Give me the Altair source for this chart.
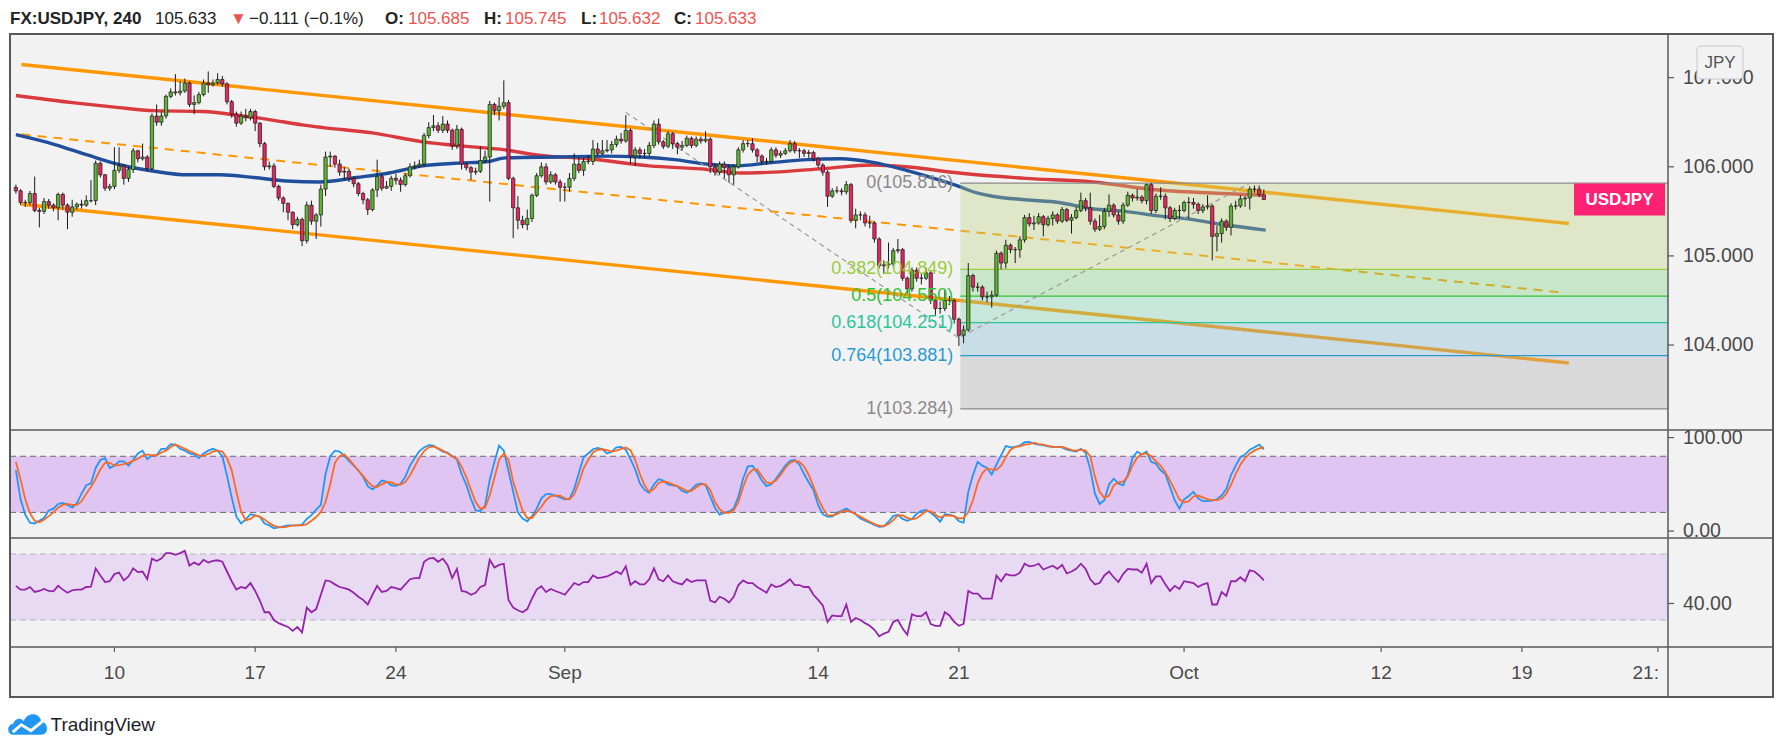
import altair as alt
import pandas as pd

# ------------------------------------------------------------------ data
first_open = 105.77
closes = [
    105.73, 105.60, 105.60, 105.70, 105.51, 105.50, 105.61, 105.57, 105.54, 105.69,
    105.57, 105.49, 105.55, 105.58, 105.57, 105.62, 105.62, 106.04, 105.91, 105.76,
    105.78, 105.96, 106.01, 105.87, 105.97, 106.18, 106.09, 106.11, 105.98, 106.57,
    106.50, 106.57, 106.79, 106.84, 106.83, 106.85, 106.94, 106.70, 106.72, 106.81,
    106.94, 106.92, 106.94, 106.98, 106.93, 106.73, 106.59, 106.49, 106.57, 106.55,
    106.62, 106.49, 106.26, 106.00, 106.01, 105.78, 105.65, 105.59, 105.49, 105.35,
    105.41, 105.17, 105.57, 105.39, 105.46, 105.75, 106.11, 106.12, 106.03, 105.94,
    105.95, 105.87, 105.81, 105.70, 105.63, 105.52, 105.74, 105.89, 105.76, 105.78,
    105.87, 105.85, 105.80, 105.90, 106.00, 106.01, 106.03, 106.35, 106.44, 106.46,
    106.41, 106.48, 106.41, 106.24, 106.42, 106.03, 105.99, 105.94, 105.95, 106.07,
    106.11, 106.70, 106.63, 106.68, 106.72, 105.87, 105.54, 105.40, 105.35, 105.42,
    105.68, 105.90, 106.00, 105.83, 105.91, 105.83, 105.77, 105.77, 105.87, 106.03,
    105.96, 106.06, 106.06, 106.20, 106.15, 106.18, 106.19, 106.25, 106.31, 106.29,
    106.41, 106.12, 106.19, 106.15, 106.15, 106.24, 106.48, 106.28, 106.23, 106.37,
    106.26, 106.22, 106.24, 106.32, 106.24, 106.31, 106.29, 106.31, 106.00, 105.94,
    106.03, 105.99, 105.91, 106.00, 106.19, 106.26, 106.26, 106.19, 106.12, 106.06,
    106.06, 106.19, 106.13, 106.15, 106.18, 106.26, 106.18, 106.18, 106.15, 106.16,
    106.09, 106.02, 105.94, 105.67, 105.73, 105.73, 105.72, 105.80, 105.40, 105.46,
    105.46, 105.37, 105.37, 105.19, 104.89, 104.90, 104.91, 105.06, 105.07, 104.75,
    104.63, 104.84, 104.75, 104.75, 104.81, 104.50, 104.41, 104.41, 104.50, 104.50,
    104.29, 104.11, 104.17, 104.78, 104.65, 104.65, 104.54, 104.54, 104.56, 105.03,
    104.92, 105.12, 105.07, 105.07, 105.18, 105.43, 105.36, 105.37, 105.44, 105.35,
    105.42, 105.46, 105.39, 105.52, 105.40, 105.43, 105.51, 105.62, 105.54, 105.39,
    105.30, 105.33, 105.50, 105.57, 105.46, 105.39, 105.57, 105.68, 105.65, 105.66,
    105.62, 105.80, 105.51, 105.67, 105.67, 105.54, 105.42, 105.51, 105.51, 105.60,
    105.60, 105.58, 105.51, 105.55, 105.56, 105.22, 105.25, 105.39, 105.32, 105.56,
    105.56, 105.64, 105.65, 105.75, 105.75, 105.685, 105.633,
]
highs = [
    105.80, 105.75, 105.63, 105.73, 105.89, 105.54, 105.65, 105.64, 105.59, 105.71,
    105.71, 105.59, 105.63, 105.60, 105.63, 105.68, 105.85, 106.07, 106.06, 105.92,
    105.81, 106.22, 106.22, 106.03, 106.00, 106.21, 106.19, 106.26, 106.13, 106.60,
    106.70, 106.62, 106.81, 106.88, 107.04, 106.96, 106.99, 106.96, 106.80, 106.84,
    106.98, 107.07, 106.98, 107.05, 107.02, 106.95, 106.75, 106.62, 106.62, 106.65,
    106.65, 106.64, 106.50, 106.28, 106.06, 106.04, 105.80, 105.67, 105.60, 105.50,
    105.44, 105.43, 105.61, 105.62, 105.48, 105.80, 106.17, 106.17, 106.13, 106.08,
    106.00, 105.98, 105.89, 105.83, 105.72, 105.65, 105.76, 106.08, 105.92, 105.84,
    105.90, 105.92, 105.88, 105.93, 106.04, 106.06, 106.08, 106.38, 106.50, 106.58,
    106.50, 106.57, 106.52, 106.43, 106.47, 106.44, 106.05, 106.01, 105.99, 106.23,
    106.18, 106.74, 106.72, 106.78, 106.97, 106.75, 105.89, 105.67, 105.45, 105.52,
    105.70, 105.93, 106.05, 106.04, 105.95, 105.93, 105.86, 105.82, 105.93, 106.15,
    106.11, 106.10, 106.13, 106.30, 106.27, 106.30, 106.30, 106.29, 106.35, 106.38,
    106.58, 106.43, 106.22, 106.22, 106.20, 106.28, 106.52, 106.54, 106.30, 106.40,
    106.39, 106.28, 106.29, 106.35, 106.34, 106.34, 106.34, 106.40, 106.33, 106.04,
    106.06, 106.06, 106.02, 106.03, 106.22, 106.30, 106.30, 106.32, 106.21, 106.14,
    106.10, 106.22, 106.22, 106.18, 106.21, 106.30, 106.29, 106.21, 106.20, 106.19,
    106.18, 106.11, 106.04, 105.96, 105.76, 105.78, 105.76, 105.84, 105.82, 105.53,
    105.50, 105.49, 105.45, 105.39, 105.21, 104.95, 105.15, 105.09, 105.19, 105.09,
    104.77, 104.87, 104.87, 104.80, 104.87, 104.83, 104.52, 104.49, 104.63, 104.55,
    104.52, 104.31, 104.22, 104.92, 104.80, 104.70, 104.67, 104.60, 104.61, 105.06,
    105.05, 105.18, 105.14, 105.10, 105.22, 105.46, 105.48, 105.45, 105.48, 105.46,
    105.45, 105.50, 105.48, 105.55, 105.54, 105.47, 105.55, 105.71, 105.65, 105.71,
    105.42, 105.46, 105.54, 105.69, 105.59, 105.50, 105.60, 105.72, 105.70, 105.75,
    105.68, 105.81, 105.82, 105.70, 105.77, 105.70, 105.56, 105.54, 105.57, 105.62,
    105.66, 105.65, 105.60, 105.58, 105.68, 105.58, 105.34, 105.42, 105.41, 105.59,
    105.62, 105.68, 105.67, 105.78, 105.79, 105.79, 105.745,
]
lows = [
    105.70, 105.57, 105.55, 105.57, 105.49, 105.32, 105.47, 105.53, 105.50, 105.40,
    105.52, 105.30, 105.44, 105.52, 105.53, 105.55, 105.60, 105.57, 105.88, 105.73,
    105.73, 105.75, 105.93, 105.80, 105.83, 105.93, 106.05, 106.07, 105.95, 105.96,
    106.46, 106.46, 106.54, 106.77, 106.80, 106.80, 106.83, 106.67, 106.59, 106.70,
    106.79, 106.83, 106.90, 106.92, 106.90, 106.70, 106.55, 106.45, 106.47, 106.51,
    106.52, 106.40, 106.22, 105.96, 105.97, 105.76, 105.62, 105.49, 105.40, 105.30,
    105.33, 105.11, 105.14, 105.35, 105.19, 105.33, 105.67, 106.00, 105.99, 105.90,
    105.85, 105.83, 105.77, 105.67, 105.58, 105.46, 105.50, 105.66, 105.73, 105.75,
    105.73, 105.80, 105.72, 105.78, 105.88, 105.97, 105.99, 106.00, 106.32, 106.40,
    106.38, 106.38, 106.38, 106.19, 106.20, 105.97, 105.96, 105.85, 105.91, 105.93,
    106.04, 105.61, 106.58, 106.52, 106.65, 105.85, 105.20, 105.30, 105.31, 105.29,
    105.38, 105.66, 105.88, 105.80, 105.81, 105.80, 105.61, 105.61, 105.72, 105.84,
    105.93, 105.90, 106.03, 106.02, 106.12, 106.13, 106.16, 106.15, 106.22, 106.26,
    106.27, 106.03, 106.01, 106.09, 106.10, 106.12, 106.21, 106.25, 106.20, 106.21,
    106.20, 106.14, 106.18, 106.22, 106.21, 106.22, 106.26, 106.27, 105.93, 105.90,
    105.91, 105.87, 105.82, 105.80, 105.98, 106.16, 106.22, 106.16, 106.05, 106.02,
    106.02, 106.04, 106.10, 106.10, 106.13, 106.16, 106.15, 106.10, 106.11, 106.10,
    106.06, 105.99, 105.90, 105.55, 105.65, 105.70, 105.68, 105.69, 105.37, 105.31,
    105.40, 105.33, 105.31, 105.15, 104.86, 104.80, 104.86, 104.88, 105.03, 104.72,
    104.58, 104.60, 104.71, 104.68, 104.73, 104.46, 104.33, 104.35, 104.38, 104.45,
    104.24, 103.99, 104.02, 104.15, 104.60, 104.60, 104.50, 104.48, 104.42, 104.54,
    104.85, 104.86, 105.03, 104.92, 104.98, 105.15, 105.33, 105.29, 105.35, 105.22,
    105.33, 105.34, 105.36, 105.37, 105.38, 105.25, 105.41, 105.49, 105.50, 105.35,
    105.27, 105.28, 105.30, 105.44, 105.43, 105.35, 105.36, 105.55, 105.61, 105.62,
    105.59, 105.58, 105.47, 105.48, 105.63, 105.41, 105.38, 105.40, 105.42, 105.49,
    105.42, 105.53, 105.47, 105.48, 105.52, 104.95, 105.05, 105.15, 105.28, 105.23,
    105.52, 105.54, 105.55, 105.52, 105.71, 105.66, 105.632,
]
stoch_k = [
    65, 34, 17.5, 9, 8, 11, 14, 22, 24, 29, 30, 28, 25, 30, 40, 49, 51, 67.5, 76, 78, 67.5,
    70, 74.6, 74.6, 70, 76, 83, 86, 77, 81, 81, 88, 88, 93, 92.5, 88, 86, 83, 82, 78, 83,
    86, 88, 86, 80, 59, 36, 15.4, 8.3, 12.5, 18, 16.7, 15.4, 8, 6, 3, 4, 5, 6, 6, 6, 7,
    13, 17, 23, 28, 61, 80,
    86, 85, 80.5, 75, 70, 65, 58, 48, 44.6, 48.5, 54, 53, 49, 48.5, 50.5, 58, 70, 78, 85.5,
    89.5, 92, 91.5, 88, 85, 84, 80, 76.5, 61, 49.5, 34.5, 22, 21.5, 27, 55, 74, 91.5, 86,
    64, 42, 20, 13.5, 10.5, 16, 24, 35, 39.5, 39.5, 38, 36, 34, 34.5, 45, 62, 79, 83, 87.5,
    89, 87.8, 83, 85, 89.5, 90, 87, 77, 66, 51, 44, 41,
    50, 55.5, 54, 50, 49, 48, 43, 41, 44.5, 49.5, 51, 49.5, 37, 25, 17.5, 19.5, 21, 24, 37,
    56, 69, 70, 63, 54, 48, 50, 56, 63, 70, 75, 76, 71, 61, 52, 44, 28, 18, 15.4, 15.4,
    19.6, 21.7, 24, 21, 18, 13.5, 11, 9, 6.5, 4.5, 5, 10, 16, 17.5, 13, 11, 13, 18.5, 21.5,
    22.5, 19.6, 15.4, 10, 18, 17.5, 16, 10.5, 9, 42,
    60, 74, 70, 67.5, 60.5, 71, 81, 91, 89.5, 90, 91.5, 95, 95.4, 93.5, 92.5, 92, 90.5, 90,
    90, 89.5, 87, 86, 85, 88, 84, 66, 40, 29, 33, 50, 56, 51, 49, 60, 78, 85, 82, 85, 74,
    72, 65, 61, 47, 33, 24, 34, 37.5, 42, 35, 32, 32, 32.5, 34, 38, 45, 60, 70, 79, 82, 87,
    89.5, 92.5, 87.5,
]
stoch_d = [
    74, 55, 34, 19, 11, 9.5, 12, 16, 20, 25, 28, 29, 28, 28, 32, 40, 47, 56, 66, 73, 73,
    70, 70.5, 71.5, 73, 75, 77.5, 80.5, 82, 81, 81, 84, 86, 90, 92.5, 90.5, 88, 85.5, 83.5,
    81, 80.5, 82.5, 85, 86, 85, 78, 65, 42, 21, 11.5, 13, 16.7, 15.4, 12.5, 8.5, 5.6, 4.2,
    4, 5, 5.8, 6, 6, 7.5, 11, 15, 20.5, 31, 50,
    73, 80, 82, 77, 71, 64.5, 59, 53, 48, 47, 50, 52.5, 52, 50, 49.6, 52.5, 59.5, 69, 78.5,
    85.5, 89.5, 90.5, 88.5, 86, 83, 80, 77.5, 69, 58, 44, 31, 24, 25, 38, 57, 76, 83, 76,
    53, 37, 22, 14, 14, 20, 26, 33, 37.5, 38, 38, 35, 34, 39, 52, 67, 76, 84, 87, 87.5,
    86.5, 85, 86, 88, 89.5, 86.5, 76, 61, 49, 42,
    45, 51.5, 53, 52, 50, 48, 45.5, 43, 43, 46.5, 50, 50, 44, 31, 23.5, 19.6, 19.6, 22.3,
    31, 47, 60, 65.5, 66, 59, 52, 51, 54, 60, 67.5, 73, 75, 74, 69, 60, 47.5, 35, 24.5,
    17, 16.7, 18, 21, 21.7, 20.5, 18, 15.5, 12.5, 10, 7.5, 5.7, 5.4, 7.5, 11.7, 16.7, 16.7,
    14.2, 12.6, 13.7, 17.5, 21.5, 21, 17.5, 14.5, 16.5, 16.7, 16, 13.5, 14, 20,
    33, 51, 62, 67, 66, 65.5, 70, 79, 87, 90, 90.5, 92.5, 93, 94.6, 93, 92.5, 91.2, 90.2,
    90, 90, 88.5, 86.5, 86, 87, 86, 80, 58, 42, 35.5, 38, 49, 52, 53, 58.5, 70, 78.5, 82.5,
    83, 80, 74.5, 70, 63, 54, 44, 34, 30.5, 32, 37, 38, 36, 34, 33, 33, 34.5, 40, 49.5, 61,
    71, 78, 83, 86, 88.5, 89.5,
]
rsi_vals = [
    50.7, 48.4, 48.4, 50, 47, 47.6, 48.8, 47.6, 47.4, 50.7, 48.4, 46.5, 48, 48.4, 48.4, 50,
    50.2, 61.3, 57, 53, 53.5,
    57.8, 58.7, 54, 56.4, 61.3, 59, 59.4, 54.7, 67.2, 65.8, 67.2, 70.5, 70.5, 69.5, 70.5,
    71.9, 63, 64.8, 63.4, 66.5, 64.8, 65.8, 66.2, 65.3, 59.4, 53.5, 48.4, 50, 49.3, 52.4,
    47.6, 41.8, 34.7, 34.7, 30, 28.1, 26.9, 25.8, 23.4, 25.8, 22.5, 37.5, 34.7, 36.6, 45.3,
    54, 53.5,
    51.6, 50, 49.3, 48.4, 46.5, 44.1, 42.2, 39.4, 45.3, 50.7, 47, 47.6, 50, 49.3, 48.4, 51.6,
    54.7, 55.4, 55.4, 65.3, 67.2, 67.6, 65.3, 67.2, 63.4, 55.4, 61, 47.6, 47, 45.3, 46.5, 50,
    51.2, 66.5, 61.8, 63.4, 64.1, 42.2, 37.5, 35.9, 34.7, 36.6, 42.9, 48.4, 50.5, 47, 48.8,
    47.6, 46.5, 45.3, 48.8, 52.4, 51.2, 53, 53, 57, 55.4, 55.9, 56.4, 57.8, 59.4, 57.8, 62.5,
    51.2, 53.5, 51.6, 51.6, 54.7,
    61.3, 54.7, 53.5, 57, 53.5, 52.4, 51.6, 54.7, 53, 54, 54, 54, 41.8, 40.6, 44.1, 42.9,
    40.6, 44.1, 51.2, 54, 52.4, 52.4, 50, 48.4, 46.5, 51.6, 50, 50.7, 52.4, 54.7, 51.2, 51.2,
    50, 50, 45.3, 42.2, 38.9, 28.8, 32.8, 32.3, 32.3, 39.4, 28.8, 31.2, 30, 28.1, 26.5, 24.1,
    20.1, 21.8, 22.9, 28.8, 30, 24.8, 21.1, 33.5, 32.3, 32.3, 34.7, 27.6, 26.5, 26.5, 34.7,
    32.8, 28.8, 26.5, 27.6, 47.6,
    46, 46, 42.9, 42.9, 42.9, 57, 53.5, 57.8, 57, 57, 58.7, 64.1, 62.5, 62.9, 64.1, 60.6,
    61.8, 62.9, 61, 63.4, 58.2, 59.4, 61, 64.1, 61, 54.7, 51.6, 52.4, 57, 59.4, 55.9, 53,
    57.8, 61, 60.6, 60.6, 58.7, 64.1, 52.4, 56.4, 56.4, 51.6, 47.6, 50.7, 48.8, 53.5, 53,
    52.4, 50, 51.6, 52.4, 39.4, 39.4, 47, 44.6, 53.5, 53.5, 55.9, 53.5, 60.1, 59.4, 57, 54,
]
first_bar = -21

red_ma_bar = [-21, -9, 0, 8.5, 19, 26, 33, 40, 44.5, 55, 65.7, 72.7, 83.3, 90.4, 101, 114,
              126.4, 133.5, 140.5, 151, 161.7, 168.8, 180, 194.2, 208.4, 222.5, 236.6, 245]
red_ma_val = [106.80, 106.72, 106.67, 106.63, 106.62, 106.58, 106.53, 106.47, 106.44, 106.38,
              106.28, 106.24, 106.19, 106.13, 106.09, 106.01, 105.97, 105.93, 105.94, 105.98,
              106.02, 106.00, 105.93, 105.87, 105.83, 105.74, 105.70, 105.68]
blue_ma_bar = [-21, -12.7, -5.6, 1.4, 8.5, 15.5, 22.6, 29.7, 36.7, 43.8, 51.6, 58.6, 65.7,
               72.7, 79.8, 83.3, 94, 104.5, 112.3, 119.4, 126.4, 132.1, 140.5, 147.6, 154.7,
               161.7, 168.8, 175.9, 180, 183.6, 187.2, 194.2, 201.3, 208.4, 215.4, 222.5,
               229.5, 236.6, 245.4]
blue_ma_val = [106.36, 106.25, 106.13, 106.02, 105.95, 105.91, 105.91, 105.88, 105.84, 105.83,
               105.88, 105.93, 106.01, 106.04, 106.06, 106.10, 106.11, 106.12, 106.11, 106.08,
               106.03, 106.01, 106.05, 106.08, 106.09, 106.05, 105.96, 105.85, 105.78, 105.71,
               105.67, 105.63, 105.60, 105.53, 105.50, 105.45, 105.41, 105.35, 105.29]

channel_bar = [-19.8, 310.0]
channel_upper = [107.148, 105.364]
channel_lower = [105.580, 103.799]
channel_mid_bar = [-19.8, 308.7]
channel_mid = [106.364, 104.589]

trend_bar = [109, 180, 242]
trend_price = [106.61, 104.08, 105.816]

fib_ratio = ["0", "0.382", "0.5", "0.618", "0.764", "1"]
fib_price = [105.816, 104.849, 104.550, 104.251, 103.881, 103.284]
fib_start_bar = 180.3

time_tick_bar = [0, 30, 60, 96, 150, 180, 228, 270, 300]
time_tick_label = ["10", "17", "24", "Sep", "14", "21", "Oct", "12", "19"]
cut_tick_bar = [329]
cut_tick_label = ["21:"]

price_ticks = [104, 105, 106, 107]
stoch_ticks = [100, 0]
rsi_ticks = [40]

# ------------------------------------------------------------------ layout / style
W = 1658            # plot width (to price-axis separator)
HM, HS, HR = 396, 108, 109
HT = HM + HS + HR   # bottom of RSI pane
AX = 50             # time axis strip
RIGHT = 1763        # right frame
FONT = "Liberation Sans, Arial, Helvetica, sans-serif"
GREEN, RED = "#5cb531", "#e8255f"
TXT = "#4a4a4a"
FRAME = "#585858"
PMIN, PMAX = 103.047, 107.490

x_scale = alt.Scale(domain=[-21.19, 330.08], nice=False, zero=False)
y_main = alt.Scale(domain=[PMIN, PMAX], range=[HM, 0], nice=False, zero=False)
y_sto = alt.Scale(domain=[-7.4, 108.1], range=[HM + HS, HM], nice=False, zero=False)
y_rsi = alt.Scale(domain=[13.64, 79.7], range=[HT, HM + HS], nice=False, zero=False)

X = lambda f: alt.X(f, scale=x_scale, axis=None)
YM = lambda f: alt.Y(f, scale=y_main, axis=None)
YS = lambda f: alt.Y(f, scale=y_sto, axis=None)
YR = lambda f: alt.Y(f, scale=y_rsi, axis=None)

one = pd.DataFrame({"a": [0]})

# ------------------------------------------------------------------ frames
n = len(closes)
bars = list(range(first_bar, first_bar + n))
opens = [first_open] + closes[:-1]
cd = pd.DataFrame({"bar": bars, "o": opens, "h": highs, "l": lows, "c": closes})
cd["top"] = cd[["o", "c"]].max(axis=1)
cd["bot"] = cd[["o", "c"]].min(axis=1)

osc = pd.DataFrame({"bar": bars, "k": stoch_k, "d": stoch_d, "rsi": rsi_vals})

ma_red = pd.DataFrame({"bar": red_ma_bar, "v": red_ma_val})
ma_blue = pd.DataFrame({"bar": blue_ma_bar, "v": blue_ma_val})

chan = pd.DataFrame({
    "bar": channel_bar * 2,
    "v": channel_upper + channel_lower,
    "line": ["upper"] * 2 + ["lower"] * 2,
})
mid = pd.DataFrame({"bar": channel_mid_bar, "v": channel_mid})
trend = pd.DataFrame({"bar": trend_bar, "v": trend_price})

fib_line_colors = ["#8a8a8a", "#9ccc3b", "#33c233", "#2dc59b", "#2a9ad6", "#8a8a8a"]
fib_fill_colors = ["#bcd57a", "#7ad57a", "#7ad5b3", "#7db6d0", "#ababab"]
fib = pd.DataFrame({
    "x0": [fib_start_bar] * 6,
    "p": fib_price,
    "col": fib_line_colors,
    "label": [f"{r}({p:.3f})" for r, p in zip(fib_ratio, fib_price)],
})
fib_zones = pd.DataFrame({
    "x0": [fib_start_bar] * 5,
    "top": fib_price[:-1],
    "bot": fib_price[1:],
    "fill": fib_fill_colors,
})

# ------------------------------------------------------------------ main pane
chan_lines = alt.Chart(chan).mark_line(color="#ff9800", strokeWidth=3.4).encode(
    x=X("bar:Q"), y=YM("v:Q"), detail="line:N")
mid_line = alt.Chart(mid).mark_line(color="#ff9800", strokeWidth=2, strokeDash=[9, 7]).encode(
    x=X("bar:Q"), y=YM("v:Q"))
red_line = alt.Chart(ma_red).mark_line(color="#d93a3e", strokeWidth=3.4, interpolate="monotone").encode(
    x=X("bar:Q"), y=YM("v:Q"))
blue_line = alt.Chart(ma_blue).mark_line(color="#1f4f9c", strokeWidth=3.4, interpolate="monotone").encode(
    x=X("bar:Q"), y=YM("v:Q"))
fib_fill = alt.Chart(fib_zones).mark_rect(opacity=0.35).encode(
    x=X("x0:Q"), x2=alt.value(W), y=YM("top:Q"), y2="bot:Q",
    fill=alt.Fill("fill:N", scale=None))
fib_rules = alt.Chart(fib).mark_rule(strokeWidth=1.3).encode(
    x=X("x0:Q"), x2=alt.value(W), y=YM("p:Q"), color=alt.Color("col:N", scale=None))
trend_line = alt.Chart(trend).mark_line(color="#9a9a9a", strokeWidth=1.2, strokeDash=[5, 4]).encode(
    x=X("bar:Q"), y=YM("v:Q"))
wicks = alt.Chart(cd).mark_rule(color="#1a1a1a", strokeWidth=1).encode(
    x=X("bar:Q"), y=YM("l:Q"), y2="h:Q")
bodies = alt.Chart(cd).mark_bar(size=3.3, stroke="#1a1a1a", strokeWidth=0.7).encode(
    x=X("bar:Q"), y=YM("top:Q"), y2="bot:Q",
    fill=alt.condition("datum.c >= datum.o", alt.value(GREEN), alt.value(RED)))
fib_labels = alt.Chart(fib).mark_text(align="right", baseline="middle", dx=-7, fontSize=18, font=FONT).encode(
    x=X("x0:Q"), y=YM("p:Q"), text="label:N", color=alt.Color("col:N", scale=None))

last_px_half = 16 / (HM / (PMAX - PMIN))
lastdf = pd.DataFrame({"p": [closes[-1]]})
lastdf["pt"] = lastdf["p"] + last_px_half
lastdf["pb"] = lastdf["p"] - last_px_half
sym_box = alt.Chart(lastdf).mark_rect(color="#ff2273").encode(
    x=alt.value(1564), x2=alt.value(1655), y=YM("pt:Q"), y2="pb:Q")
sym_txt = alt.Chart(lastdf).mark_text(color="white", fontWeight="bold", fontSize=17, font=FONT,
                                      baseline="middle", align="center").encode(
    x=alt.value(1609.5), y=YM("p:Q"), text=alt.value("USDJPY"))

pt = pd.DataFrame({"v": price_ticks, "t": [f"{v:.3f}" for v in price_ticks]})
price_lab = alt.Chart(pt).mark_text(align="left", baseline="middle", fontSize=19.5, font=FONT, color=TXT).encode(
    x=alt.value(W + 15), y=YM("v:Q"), text="t:N")
price_tk = alt.Chart(pt).mark_rule(color=FRAME, strokeWidth=1.2).encode(
    x=alt.value(W), x2=alt.value(W + 6), y=YM("v:Q"))

main = alt.layer(chan_lines, mid_line, red_line, blue_line, fib_fill, fib_rules, trend_line,
                 wicks, bodies, fib_labels, sym_box, sym_txt, price_lab, price_tk)

# ------------------------------------------------------------------ stochastic pane
band_s = pd.DataFrame({"hi": [80], "lo": [20]})
sto_band = alt.Chart(band_s).mark_rect(color="#e0c5f3").encode(
    x=alt.value(0), x2=alt.value(W), y=YS("hi:Q"), y2="lo:Q")
sto_lines_df = pd.DataFrame({"v": [80, 20]})
sto_rules = alt.Chart(sto_lines_df).mark_rule(color="#6a6a6a", strokeWidth=1, strokeDash=[6, 4]).encode(
    x=alt.value(0), x2=alt.value(W), y=YS("v:Q"))
k_line = alt.Chart(osc).mark_line(color="#2196f3", strokeWidth=1.8).encode(x=X("bar:Q"), y=YS("k:Q"))
d_line = alt.Chart(osc).mark_line(color="#fb6a25", strokeWidth=1.8).encode(x=X("bar:Q"), y=YS("d:Q"))
st = pd.DataFrame({"v": stoch_ticks, "t": [f"{v:.2f}" for v in stoch_ticks]})
sto_lab = alt.Chart(st).mark_text(align="left", baseline="middle", fontSize=19.5, font=FONT, color=TXT).encode(
    x=alt.value(W + 15), y=YS("v:Q"), text="t:N")
sto_tk = alt.Chart(st).mark_rule(color=FRAME, strokeWidth=1.2).encode(
    x=alt.value(W), x2=alt.value(W + 6), y=YS("v:Q"))
sto = alt.layer(sto_band, sto_rules, k_line, d_line, sto_lab, sto_tk)

# ------------------------------------------------------------------ RSI pane
band_r = pd.DataFrame({"hi": [70], "lo": [30]})
rsi_axis_bg = alt.Chart(one).mark_rect(color="#f2f2f2").encode(
    x=alt.value(W), x2=alt.value(RIGHT), y=alt.value(HM + HS), y2=alt.value(HT))
rsi_band = alt.Chart(band_r).mark_rect(color="#e8daf2").encode(
    x=alt.value(0), x2=alt.value(W), y=YR("hi:Q"), y2="lo:Q")
rsi_lines_df = pd.DataFrame({"v": [70, 30]})
rsi_rules = alt.Chart(rsi_lines_df).mark_rule(color="#b9afc2", strokeWidth=1, strokeDash=[6, 4]).encode(
    x=alt.value(0), x2=alt.value(W), y=YR("v:Q"))
rsi_line = alt.Chart(osc).mark_line(color="#9424a8", strokeWidth=1.8).encode(x=X("bar:Q"), y=YR("rsi:Q"))
rt = pd.DataFrame({"v": rsi_ticks, "t": [f"{v:.2f}" for v in rsi_ticks]})
rsi_lab = alt.Chart(rt).mark_text(align="left", baseline="middle", fontSize=19.5, font=FONT, color=TXT).encode(
    x=alt.value(W + 15), y=YR("v:Q"), text="t:N")
rsi_tk = alt.Chart(rt).mark_rule(color=FRAME, strokeWidth=1.2).encode(
    x=alt.value(W), x2=alt.value(W + 6), y=YR("v:Q"))
rsi = alt.layer(rsi_axis_bg, rsi_band, rsi_rules, rsi_line, rsi_lab, rsi_tk)

# ------------------------------------------------------------------ overlays (background, axes, frame, header)
bg = alt.Chart(one).mark_rect(color="#f2f2f2").encode(
    x=alt.value(0), x2=alt.value(RIGHT), y=alt.value(0), y2=alt.value(HT + AX))

tt = pd.DataFrame({"bar": time_tick_bar, "t": time_tick_label})
tcut = pd.DataFrame({"bar": cut_tick_bar, "t": cut_tick_label})
time_tk = alt.Chart(pd.concat([tt, tcut])).mark_rule(color=FRAME, strokeWidth=1.2).encode(
    x=X("bar:Q"), y=alt.value(HT), y2=alt.value(HT + 5))
time_lab = alt.Chart(tt).mark_text(align="center", baseline="middle", fontSize=19, font=FONT, color=TXT).encode(
    x=X("bar:Q"), y=alt.value(HT + 26), text="t:N")
time_cut = alt.Chart(tcut).mark_text(align="right", baseline="middle", fontSize=19, font=FONT, color=TXT, dx=1).encode(
    x=X("bar:Q"), y=alt.value(HT + 26), text="t:N")

jpy_box = alt.Chart(one).mark_rect(fill="#f2f2f2", stroke="#c8c8d6", strokeWidth=1, cornerRadius=4).encode(
    x=alt.value(1687), x2=alt.value(1733), y=alt.value(12), y2=alt.value(45))
jpy_txt = alt.Chart(one).mark_text(fontSize=17, font=FONT, color="#555555", align="center", baseline="middle").encode(
    x=alt.value(1710), y=alt.value(29), text=alt.value("JPY"))

frame = alt.Chart(one).mark_rect(fill=None, stroke=FRAME, strokeWidth=2).encode(
    x=alt.value(0), x2=alt.value(RIGHT), y=alt.value(0), y2=alt.value(HT + AX))
seps = [
    alt.Chart(one).mark_rule(color=FRAME, strokeWidth=1.5).encode(
        x=alt.value(0), x2=alt.value(RIGHT), y=alt.value(yy))
    for yy in (HM, HM + HS, HT)
]
vsep = alt.Chart(one).mark_rule(color=FRAME, strokeWidth=1.5).encode(
    x=alt.value(W), y=alt.value(0), y2=alt.value(HT + AX))

header_parts = [
    (0, "FX:USDJPY, 240", "bold", "#222222"),
    (145, "105.633", "normal", "#222222"),
    (220, "\u25BC", "normal", "#ef5350"),
    (239, "\u22120.111 (\u22120.1%)", "normal", "#222222"),
    (375, "O:", "bold", "#222222"),
    (398, "105.685", "normal", "#ef5350"),
    (474, "H:", "bold", "#222222"),
    (495, "105.745", "normal", "#ef5350"),
    (571, "L:", "bold", "#222222"),
    (589, "105.632", "normal", "#ef5350"),
    (664, "C:", "bold", "#222222"),
    (685, "105.633", "normal", "#ef5350"),
]
header = [
    alt.Chart(one).mark_text(align="left", baseline="alphabetic", fontSize=17, font=FONT,
                             fontWeight=w, color=c).encode(
        x=alt.value(xx), y=alt.value(-10.5), text=alt.value(t))
    for xx, t, w, c in header_parts
]

CLOUD = ("M -0.85 0.56 C -1.12 0.56 -1.15 0.02 -0.78 0.0 C -0.72 -0.3 -0.38 -0.36 -0.22 -0.14 "
         "C -0.08 -0.62 0.62 -0.66 0.7 -0.12 C 1.12 -0.08 1.1 0.56 0.74 0.56 Z")
ZIG = "M -0.82 0.44 L -0.36 0.04 L 0.16 0.36 L 0.78 -0.14"
logo_cloud = alt.Chart(one).mark_point(
    shape=CLOUD, filled=True, fill="#2196f3", stroke="#2196f3", strokeWidth=0.5, size=1380, opacity=1).encode(
    x=alt.value(18), y=alt.value(690))
logo_line = alt.Chart(one).mark_point(
    shape=ZIG, filled=False, stroke="white", strokeWidth=3, size=1380, opacity=1).encode(
    x=alt.value(18), y=alt.value(690))
logo_txt = alt.Chart(one).mark_text(align="left", baseline="alphabetic", fontSize=19, font=FONT, color="#1e222d").encode(
    x=alt.value(40.5), y=alt.value(697), text=alt.value("TradingView"))

chart = alt.layer(
    bg, sto, rsi, main,
    time_tk, time_lab, time_cut, jpy_box, jpy_txt,
    *seps, vsep, frame, *header, logo_cloud, logo_line, logo_txt,
).resolve_scale(y="independent").properties(
    width=W, height=HT,
    padding={"left": 2, "top": 26, "right": 107, "bottom": 96},
    autosize=alt.AutoSizeParams(type="none"),
    background="white",
).configure_view(strokeWidth=0)

chart.save("out.html", embed_options={"renderer": "svg", "actions": False})
